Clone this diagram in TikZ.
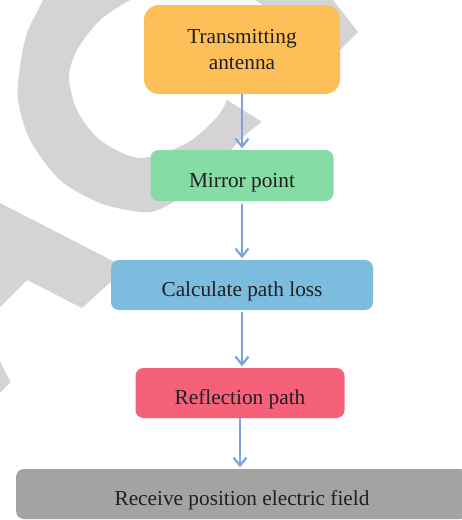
\documentclass[tikz,border=0pt]{standalone}
\usepackage{fontspec}
\setmainfont{Liberation Serif}
\usetikzlibrary{arrows.meta}
\definecolor{wm}{HTML}{D4D4D4}
\definecolor{cOrange}{HTML}{FDC058}
\definecolor{cGreen}{HTML}{85DCA5}
\definecolor{cBlue}{HTML}{7BBCDF}
\definecolor{cPink}{HTML}{F46179}
\definecolor{cGrey}{HTML}{A3A3A3}
\definecolor{arr}{HTML}{7DA2DC}
\definecolor{txt}{HTML}{231F20}
\begin{document}
\begin{tikzpicture}[x=1pt,y=-1pt,
  box/.style={rounded corners=8pt, inner sep=0pt, text=txt,
    font=\fontsize{21.3}{26}\selectfont, align=center},
  oneline/.style={text height=23pt, text depth=0pt},
  flow/.style={draw=arr, line width=2.2pt,
    -{Straight Barb[length=8pt,width=13pt]}, shorten <=2pt, shorten >=1.5pt}]
\useasboundingbox (0,0) rectangle (462,520);
\begin{scope}
\clip (0,0) rectangle (462,520);
% watermark
\fill[wm] plot[smooth] coordinates {(262,122) (240,140) (200,185) (160,209) (140,212) (100,203) (60,180) (30,140) (18,100) (20,67) (27,33) (43,0) (50,-20)}
  -- (50,-60) -- (300,-60) -- (333,0) -- (358,32) -- (340,50) -- (300,30) -- (255,0) -- (240,-20) -- (140,-20)
  -- plot[smooth] coordinates {(130,0) (100,20) (77,50) (69,77) (77,110) (100,140) (140,158) (187,143) (217,117) (227,100)} -- cycle;
\fill[wm] (0,203) -- (140,275) -- (115,278) -- (82,308) -- (27,280) -- (0,307) -- cycle;
\fill[wm] (0,361) -- (10.5,382) -- (0,393) -- cycle;
% nodes
\node[box, fill=cOrange, rounded corners=15pt, minimum width=196pt, minimum height=89pt] (t) at (242,49.5) {Transmitting\\antenna};
\node[box, oneline, fill=cGreen, minimum width=183pt, minimum height=51pt] (m) at (242,175.5) {Mirror point};
\node[box, oneline, fill=cBlue, minimum width=262pt, minimum height=50pt] (c) at (242,285) {Calculate path loss};
\node[box, oneline, fill=cPink, minimum width=209pt, minimum height=50pt] (r) at (240,393) {Reflection path};
\node[box, oneline, fill=cGrey, minimum width=452pt, minimum height=50pt] (v) at (242,494) {Receive position electric field};
% connectors
\draw[flow, shorten <=0pt] (t.south) -- (m.north);
\draw[flow, shorten <=3pt] (m.south) -- (c.north);
\draw[flow] (c.south) -- (c.south |- r.north);
\draw[flow, shorten <=0pt] (r.south) -- (r.south |- v.north);
\end{scope}
\end{tikzpicture}
\end{document}
